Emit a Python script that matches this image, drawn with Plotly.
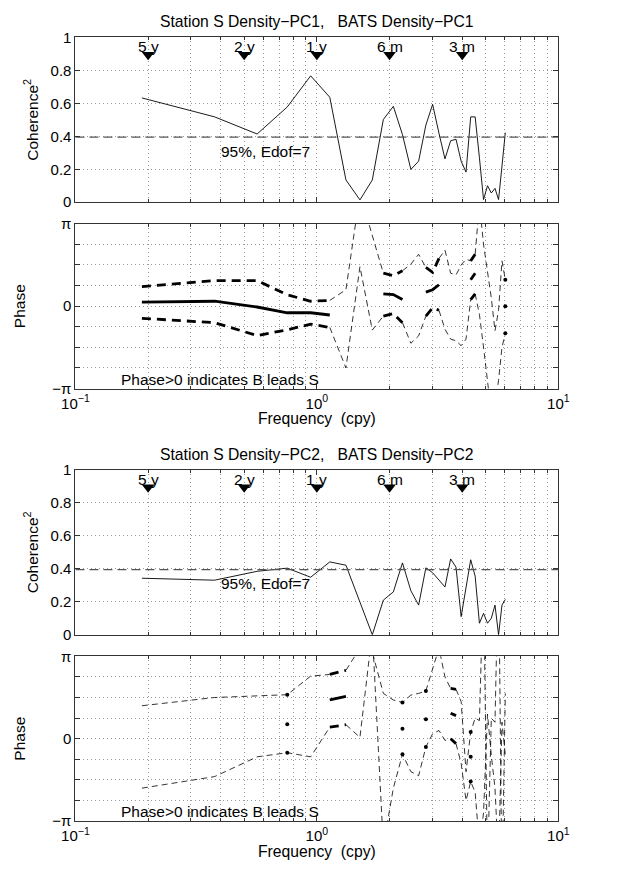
import plotly.graph_objects as go
import math

# ---------------- data ----------------
freq = [0.1885, 0.377, 0.5655, 0.754, 0.9425, 1.131, 1.3195, 1.508, 1.6965, 1.885,
        2.0735, 2.262, 2.4505, 2.639, 2.8275, 3.016, 3.2045, 3.393, 3.5815, 3.77,
        3.9585, 4.147, 4.3355, 4.524, 4.7125, 4.901, 5.0895, 5.278, 5.4665, 5.655,
        5.8435, 6.032]

coh_pc1 = [0.633, 0.518, 0.414, 0.578, 0.767, 0.637, 0.135, 0.014, 0.135, 0.502,
           0.582, 0.41, 0.199, 0.249, 0.468, 0.594, 0.418, 0.263, 0.373, 0.382,
           0.249, 0.183, 0.518, 0.518, 0.27, 0.016, 0.10, 0.056, 0.084, 0.016,
           0.22, 0.422]
coh_pc2 = [0.343, 0.331, 0.385, 0.404, 0.349, 0.442, 0.422, 0.20, 0.0, 0.21,
           0.26, 0.436, 0.267, 0.18, 0.406, 0.376, 0.33, 0.29, 0.46, 0.41,
           0.11, 0.28, 0.455, 0.356, 0.07, 0.13, 0.07, 0.10, 0.18, 0.0,
           0.18, 0.214]

# phase (in units of pi): upper limit, estimate, lower limit
ph_hi_pc1 = [0.238, 0.31, 0.31, 0.139, 0.06, 0.07, 0.2, 1.37, 0.85, 0.40,
             0.37, 0.43, 0.51, 0.63, 0.47, 0.41, 0.58, 0.68, 0.40, 0.38,
             0.50, 0.57, 0.55, 0.63, 1.25, 0.75, 0.42, 0.10, -0.30, -0.05,
             0.55, 0.32]
ph_mid_pc1 = [0.048, 0.06, -0.01, -0.08, -0.08, -0.107, None, None, None, 0.15,
              0.14, 0.08, None, None, 0.17, 0.20, 0.26, None, None, None,
              None, None, 0.32, 0.40, None, None, None, None, None, None,
              None, 0.0]
ph_lo_pc1 = [-0.147, -0.20, -0.357, -0.286, -0.218, -0.258, -0.75, 0.48, -0.29, -0.12,
             -0.09, -0.20, -0.45, -0.36, -0.12, -0.02, -0.05, -0.28, -0.40, -0.42,
             -0.48, -0.40, 0.08, 0.15, -0.10, -0.50, -0.90, -1.30, -1.20, -0.90,
             -0.50, -0.33]

ph_hi_pc2 = [0.40, 0.50, 0.52, 0.534, 0.76, 0.78, 0.83, 1.1, 1.05, 0.55,
             0.47, 0.44, 0.53, 0.55, 0.58, 0.83, 1.1, 0.75, 0.61, 0.60,
             0.45, -0.40, 0.08, 0.25, 0.22, 2.0, -1.6, 0.25, 0.2, 2.2,
             -1.8, 0.55]
ph_mid_pc2 = [None, None, None, 0.175, None, 0.47, 0.515, None, None, None,
              None, 0.12, None, None, 0.235, None, None, None, 0.31, 0.28,
              None, None, -0.22, None, None, None, None, None, None, None,
              None, None]
ph_lo_pc2 = [-0.60, -0.46, -0.22, -0.17, -0.22, 0.14, 0.17, 0.016, 1.3, -1.3,
             -0.6, -0.19, -0.40, -0.45, -0.10, 0.06, 0.10, -0.02, 0.0, -0.06,
             -0.3, -0.75, -0.52, -0.65, -1.3, -0.9, 0.3, -0.2, -0.6, -1.5,
             0.2, -0.2]

sig_level = 0.395
period_f = [0.2, 0.5, 1.0, 2.0, 4.0]
period_lbl = ["5 y", "2 y", "1 y", "6 m", "3 m"]
titles = ["Station S Density\u2212PC1,   BATS Density\u2212PC1",
          "Station S Density\u2212PC2,   BATS Density\u2212PC2"]

# ---------------- layout constants ----------------
W, H = 625, 885
FONT = "Liberation Sans, Arial, sans-serif"
DY = 441  # vertical offset of the second figure
xdom = [64 / W, 567 / W]
def ydom(top, bot):
    return [1 - bot / H, 1 - top / H]
doms = {"coh1": ydom(29, 197), "ph1": ydom(219, 387),
        "coh2": ydom(29 + DY, 197 + DY), "ph2": ydom(219 + DY, 387 + DY)}

fig = go.Figure()

def runs(vals, sig, want_both):
    xs, ys = [], []
    prev = False
    for i in range(len(vals) - 1):
        both = sig[i] and sig[i + 1]
        ok = (both == want_both) and vals[i] is not None and vals[i + 1] is not None
        if ok:
            if not prev:
                if xs:
                    xs.append(None); ys.append(None)
                xs.append(freq[i]); ys.append(vals[i])
            xs.append(freq[i + 1]); ys.append(vals[i + 1])
        prev = ok
    return xs, ys

def isolated(vals, sig):
    xs, ys = [], []
    n = len(vals)
    for i in range(n):
        if sig[i] and vals[i] is not None:
            left = i > 0 and sig[i - 1]
            right = i < n - 1 and sig[i + 1]
            if not left and not right:
                xs.append(freq[i]); ys.append(vals[i])
    return xs, ys

def add_panel(coh, hi, mid, lo, cx, cy, px, py):
    sig = [c >= sig_level for c in coh]
    fig.add_trace(go.Scatter(x=freq, y=coh, mode="lines", line=dict(color="black", width=0.9),
                             xaxis=cx, yaxis=cy, hoverinfo="skip"))
    fig.add_trace(go.Scatter(x=[0.1, 10], y=[sig_level, sig_level], mode="lines",
                             line=dict(color="#555555", width=1.1, dash="9px,5px"),
                             xaxis=cx, yaxis=cy, hoverinfo="skip"))
    fig.add_trace(go.Scatter(x=period_f, y=[0.895] * len(period_f), mode="markers",
                             marker=dict(symbol="triangle-down", size=11, color="black"),
                             xaxis=cx, yaxis=cy, hoverinfo="skip"))
    for v in (hi, lo):
        xs, ys = runs(v, sig, False)
        fig.add_trace(go.Scatter(x=xs, y=ys, mode="lines",
                                 line=dict(color="black", width=0.8, dash="6px,4px"),
                                 xaxis=px, yaxis=py, hoverinfo="skip"))
        xs, ys = runs(v, sig, True)
        fig.add_trace(go.Scatter(x=xs, y=ys, mode="lines",
                                 line=dict(color="black", width=2.8, dash="9px,6px"),
                                 xaxis=px, yaxis=py, hoverinfo="skip"))
    xs, ys = runs(mid, sig, True)
    fig.add_trace(go.Scatter(x=xs, y=ys, mode="lines", line=dict(color="black", width=2.8),
                             xaxis=px, yaxis=py, hoverinfo="skip"))
    dx, dy = [], []
    for v in (hi, mid, lo):
        a, b = isolated(v, sig)
        dx += a; dy += b
    fig.add_trace(go.Scatter(x=dx, y=dy, mode="markers", marker=dict(size=4, color="black"),
                             xaxis=px, yaxis=py, hoverinfo="skip"))

add_panel(coh_pc1, ph_hi_pc1, ph_mid_pc1, ph_lo_pc1, "x", "y", "x2", "y2")
add_panel(coh_pc2, ph_hi_pc2, ph_mid_pc2, ph_lo_pc2, "x3", "y3", "x4", "y4")

x_major = [0.1, 1, 10]
x_major_lbl = ["10<sup>\u22121</sup>", "10<sup>0</sup>", "10<sup>1</sup>"]
x_minor = [0.2, 0.3, 0.4, 0.5, 0.6, 0.7, 0.8, 0.9, 2, 3, 4, 5, 6, 7, 8, 9]
tickfont = dict(family=FONT, size=15, color="black")
GRID = dict(gridcolor="#9a9a9a", griddash="1px,3px", gridwidth=1)

def xax(anchor, labels):
    return dict(type="log", range=[-1, 1], domain=xdom, anchor=anchor,
                tickmode="array", tickvals=x_major, ticktext=x_major_lbl,
                showticklabels=labels, showgrid=True, **GRID,
                minor=dict(tickmode="array", tickvals=x_minor, showgrid=True, ticks="inside",
                           ticklen=3, tickcolor="#333333", **GRID),
                showline=True, linecolor="#333333", linewidth=1, mirror="allticks",
                ticks="inside", ticklen=5, tickcolor="#333333", tickfont=tickfont,
                ticklabelstandoff=1, zeroline=False, fixedrange=True)

ct = [0, 0.2, 0.4, 0.6, 0.8, 1]
pt_major = [-1, 0, 1]
pt_lbl = ["\u2212\u03c0", "0", "\u03c0"]
pt_minor = [-0.75, -0.5, -0.25, 0.25, 0.5, 0.75]

def yax(anchor, dom, kind):
    d = dict(domain=dom, anchor=anchor, showgrid=True, **GRID,
             showline=True, linecolor="#333333", linewidth=1, mirror="allticks",
             ticks="inside", ticklen=5, tickcolor="#333333", tickfont=tickfont,
             zeroline=False, fixedrange=True, tickmode="array")
    if kind == "coh":
        d.update(range=[0, 1], tickvals=ct, ticktext=["0", "0.2", "0.4", "0.6", "0.8", "1"],
                 title=dict(text="Coherence<sup>2</sup>", font=dict(family=FONT, size=15.5, color="black"),
                            standoff=8))
    else:
        d.update(range=[-1, 1], tickvals=pt_major, ticktext=pt_lbl,
                 minor=dict(tickmode="array", tickvals=pt_minor, showgrid=True, ticks="inside",
                            ticklen=5, tickcolor="#333333", **GRID),
                 title=dict(text="Phase", font=dict(family=FONT, size=15.5, color="black"),
                            standoff=22))
    return d

ann = []
for i, t in enumerate(titles):
    ann.append(dict(text=t, x=(xdom[0] + xdom[1]) / 2, y=1 - (13 + DY * i) / H,
                    xref="paper", yref="paper", showarrow=False, xanchor="center", yanchor="middle",
                    font=dict(family=FONT, size=15.7, color="black")))
    ann.append(dict(text="Frequency  (cpy)", x=(xdom[0] + xdom[1]) / 2, y=1 - (418 + DY * i) / H,
                    xref="paper", yref="paper", showarrow=False, xanchor="center", yanchor="middle",
                    font=dict(family=FONT, size=15.7, color="black")))
for cx, cy, px, py in (("x", "y", "x2", "y2"), ("x3", "y3", "x4", "y4")):
    for f, lbl in zip(period_f, period_lbl):
        ann.append(dict(text=lbl, x=math.log10(f), y=0.945, xref=cx, yref=cy, showarrow=False,
                        xanchor="center", yanchor="middle",
                        font=dict(family=FONT, size=15.5, color="black")))
    ann.append(dict(text="95%, Edof=7", x=math.log10(0.61), y=0.31, xref=cx, yref=cy,
                    showarrow=False, xanchor="center", yanchor="middle",
                    font=dict(family=FONT, size=15.5, color="black")))
    ann.append(dict(text="Phase>0 indicates B leads S", x=math.log10(0.152), y=-0.885,
                    xref=px, yref=py, showarrow=False, xanchor="left", yanchor="middle",
                    font=dict(family=FONT, size=15.5, color="black")))

fig.update_layout(
    width=W, height=H, margin=dict(l=0, r=0, t=0, b=0),
    paper_bgcolor="white", plot_bgcolor="white", showlegend=False,
    font=dict(family=FONT, color="black"),
    xaxis=xax("y", False), yaxis=yax("x", doms["coh1"], "coh"),
    xaxis2=xax("y2", True), yaxis2=yax("x2", doms["ph1"], "ph"),
    xaxis3=xax("y3", False), yaxis3=yax("x3", doms["coh2"], "coh"),
    xaxis4=xax("y4", True), yaxis4=yax("x4", doms["ph2"], "ph"),
    annotations=ann,
)

fig.write_html("out.html")
